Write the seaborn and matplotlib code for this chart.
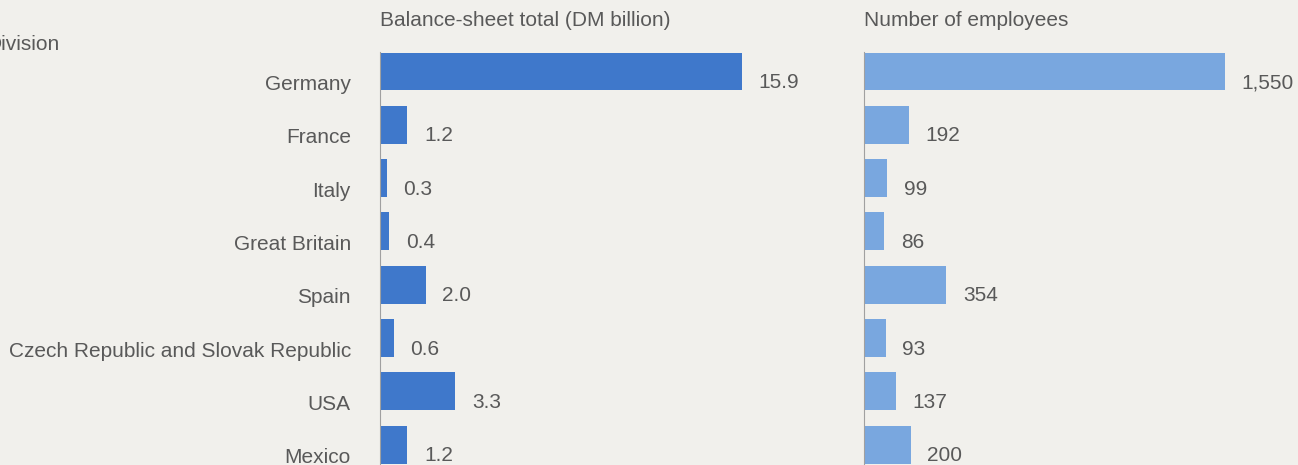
import matplotlib
matplotlib.use("Agg")
import matplotlib.pyplot as plt
from matplotlib.transforms import ScaledTranslation
import seaborn as sns
import pandas as pd

countries = ["Germany", "France", "Italy", "Great Britain", "Spain",
             "Czech Republic and Slovak Republic", "USA", "Mexico"]
balance_total = [15.9, 1.2, 0.3, 0.4, 2.0, 0.6, 3.3, 1.2]
balance_labels = ["15.9", "1.2", "0.3", "0.4", "2.0", "0.6", "3.3", "1.2"]
employees = [1550, 192, 99, 86, 354, 93, 137, 200]
employee_labels = ["1,550", "192", "99", "86", "354", "93", "137", "200"]

title_left = "Balance-sheet total (DM billion)"
title_right = "Number of employees"
section_label = "Division"

sns.set_theme(style="white")
plt.rcParams["font.family"] = ["Liberation Sans", "DejaVu Sans"]

BG = "#f1f0ec"
TXT = "#595959"
C_LEFT = "#3f78cb"
C_RIGHT = "#79a7df"
FS = 15

W, H = 1298, 465
fig = plt.figure(figsize=(W / 100, H / 100), dpi=100)
fig.patch.set_facecolor(BG)

df = pd.DataFrame({"country": countries, "balance": balance_total, "employees": employees})

top_px, bot_px = 40, 465
first_c, step = 71.5, 53.3
y_top = -(first_c - top_px) / step
y_bot = 7 + (bot_px - (first_c + 7 * step)) / step

def make_ax(left_px, width_px, xmax):
    ax = fig.add_axes([left_px / W, 1 - bot_px / H, width_px / W, (bot_px - top_px) / H])
    ax.set_facecolor("none")
    ax.set_xlim(0, xmax)
    return ax

axL = make_ax(380, 420, 420 / (362 / 15.9))
axR = make_ax(864, 434, 434 / (361 / 1550))

sns.barplot(data=df, x="balance", y="country", orient="h", color=C_LEFT,
            saturation=1, width=0.71, ax=axL, linewidth=0)
sns.barplot(data=df, x="employees", y="country", orient="h", color=C_RIGHT,
            saturation=1, width=0.71, ax=axR, linewidth=0)

for ax, vals, labs in [(axL, balance_total, balance_labels), (axR, employees, employee_labels)]:
    ax.set_ylim(y_bot, y_top)
    ax.set_xlabel("")
    ax.set_ylabel("")
    ax.set_xticks([])
    for s in ["top", "right", "bottom"]:
        ax.spines[s].set_visible(False)
    ax.spines["left"].set_color("#a0a0a0")
    ax.spines["left"].set_linewidth(0.8)
    ax.spines["left"].set_bounds(-0.36, y_bot)
    for i, (v, t) in enumerate(zip(vals, labs)):
        ax.annotate(t, xy=(v, i), xytext=(12, -8), textcoords="offset points",
                    ha="left", va="center", fontsize=FS, color=TXT)

axL.tick_params(axis="y", length=0, pad=21, labelsize=FS, labelcolor=TXT)
off = ScaledTranslation(0, -8 / 72, fig.dpi_scale_trans)
for lab in axL.get_yticklabels():
    lab.set_transform(lab.get_transform() + off)
axR.set_yticks([])

fig.text(380 / W, 1 - 20 / H, title_left, ha="left", va="center", fontsize=FS, color=TXT)
fig.text(864 / W, 1 - 20 / H, title_right, ha="left", va="center", fontsize=FS, color=TXT)
fig.text(-14 / W, 1 - 45 / H, section_label, ha="left", va="center", fontsize=FS, color=TXT)

fig.savefig("out.png", dpi=100, facecolor=BG)
